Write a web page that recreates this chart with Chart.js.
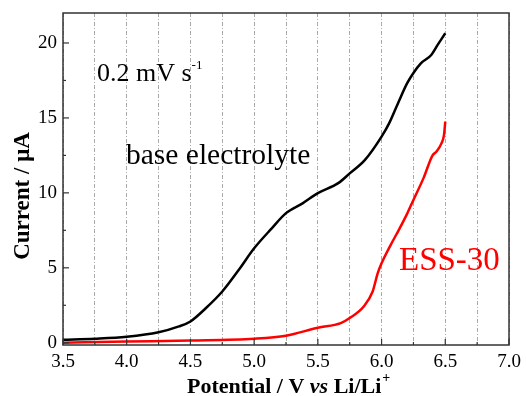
<!DOCTYPE html>
<html><head><meta charset="utf-8">
<script src="https://cdn.jsdelivr.net/npm/chart.js@4"></script>
<style>html,body{margin:0;padding:0;background:#fff}#wrap{width:526px;height:396px}</style>
</head><body><div id="wrap"><canvas id="c"></canvas></div>
<script>
const basePotential = [3.5,3.75,4.0,4.25,4.41,4.5,4.62,4.75,4.88,5.0,5.14,5.25,5.38,5.5,5.66,5.75,5.87,6.0,6.06,6.13,6.2,6.25,6.31,6.39,6.44,6.5];
const baseCurrent   = [0.2,0.27,0.4,0.7,1.09,1.42,2.3,3.42,4.87,6.3,7.65,8.65,9.3,9.98,10.65,11.3,12.2,13.75,14.65,16.0,17.3,18.0,18.65,19.2,19.87,20.65];
const essPotential  = [3.5,4.0,4.5,5.0,5.25,5.5,5.68,5.75,5.86,5.93,5.97,6.0,6.07,6.14,6.2,6.25,6.33,6.4,6.43,6.47,6.49,6.5];
const essCurrent    = [0.0,0.08,0.15,0.27,0.47,1.0,1.31,1.65,2.42,3.42,4.65,5.3,6.5,7.6,8.6,9.53,11.0,12.5,12.75,13.3,13.87,14.75];
const xTicks = [3.5,4.0,4.5,5.0,5.5,6.0,6.5,7.0];
const yTicks = [0,5,10,15,20];
const seriesNames = ['base electrolyte','ESS-30'];

const serif = '"Liberation Serif","Times New Roman",serif';
const toPts = (xs, ys) => xs.map((x,i)=>({x:x,y:ys[i]}));

const decor = {
  id:'decor',
  afterDraw(chart){
    const ctx = chart.ctx, a = chart.chartArea, xs = chart.scales.x, ys = chart.scales.y;
    ctx.save();
    ctx.strokeStyle = '#333'; ctx.lineWidth = 1.5;
    ctx.strokeRect(a.left, a.top, a.right-a.left, a.bottom-a.top);
    ctx.lineWidth = 1.2;
    for (let v=3.5; v<=7.0001; v+=0.25){
      const p = xs.getPixelForValue(v);
      const major = Math.abs(v*2-Math.round(v*2))<1e-6;
      ctx.beginPath(); ctx.moveTo(p,a.bottom); ctx.lineTo(p,a.bottom-(major?6:3)); ctx.stroke();
    }
    for (let v=0; v<=22; v+=2.5){
      const p = ys.getPixelForValue(v);
      const major = v%5===0;
      ctx.beginPath(); ctx.moveTo(a.left,p); ctx.lineTo(a.left+(major?6:3),p); ctx.stroke();
    }
    // annotations
    ctx.fillStyle='#000'; ctx.textBaseline='alphabetic'; ctx.textAlign='left';
    ctx.font = '26px '+serif;
    ctx.fillText('0.2 mV s', 97, 81);
    let w = ctx.measureText('0.2 mV s').width;
    ctx.font = '13px '+serif; ctx.fillText('-1', 97+w, 69);
    ctx.font = '29.5px '+serif; ctx.fillText(seriesNames[0], 126, 164);
    ctx.fillStyle='#ff0000'; ctx.font = '33px '+serif; ctx.fillText(seriesNames[1], 399, 270);
    // axis titles
    ctx.fillStyle='#000';
    ctx.save();
    ctx.translate(23, 196); ctx.rotate(-Math.PI/2);
    ctx.font='bold 23px '+serif; ctx.textAlign='center'; ctx.textBaseline='middle';
    ctx.fillText('Current / \u03bcA', 0, 0);
    ctx.restore();
    const parts = [['bold 22px ','Potential / V '],['bold italic 22px ','vs'],['bold 22px ',' Li/Li']];
    let x = 187, y = 393;
    ctx.textAlign='left'; ctx.textBaseline='alphabetic';
    parts.forEach(p=>{ctx.font=p[0]+serif; ctx.fillText(p[1],x,y); x+=ctx.measureText(p[1]).width;});
    ctx.font='bold 14px '+serif; ctx.fillText('+', x+1, y-11);
    ctx.restore();
  }
};

new Chart(document.getElementById('c'), {
  type:'line',
  data:{datasets:[
    {label:seriesNames[0], data:toPts(basePotential,baseCurrent), borderColor:'#000', borderWidth:2.5, pointRadius:0, cubicInterpolationMode:'monotone'},
    {label:seriesNames[1], data:toPts(essPotential,essCurrent), borderColor:'#ff0000', borderWidth:2.5, pointRadius:0, cubicInterpolationMode:'monotone'}
  ]},
  options:{
    responsive:true, maintainAspectRatio:false, animation:false,
    layout:{padding:{left:0,right:17,top:13,bottom:0}},
    plugins:{legend:{display:false}, tooltip:{enabled:false}},
    scales:{
      x:{type:'linear', min:3.5, max:7.0,
        afterBuildTicks:s=>{const t=[];for(let v=3.5;v<=7.0001;v+=0.25)t.push({value:Math.round(v*100)/100});s.ticks=t;},
        afterFit:s=>{s.height=51; s.paddingLeft=0; s.paddingRight=0;},
        ticks:{autoSkip:false, maxRotation:0, color:'#000', padding:6, font:{family:serif,size:19},
          callback:v=>Math.abs(v*2-Math.round(v*2))<1e-6 ? v.toFixed(1) : ''},
        grid:{color:'#aaa', lineWidth:1, drawTicks:false},
        border:{display:false, dash:[4,2,1,2]}
      },
      y:{type:'linear', min:-0.15, max:22,
        afterBuildTicks:s=>{s.ticks=yTicks.map(v=>({value:v}));},
        afterFit:s=>{s.width=63; s.paddingTop=0; s.paddingBottom=0;},
        ticks:{color:'#000', padding:6, font:{family:serif,size:19}},
        grid:{display:false, drawTicks:false},
        border:{display:false}
      }
    }
  },
  plugins:[decor]
});
</script></body></html>
